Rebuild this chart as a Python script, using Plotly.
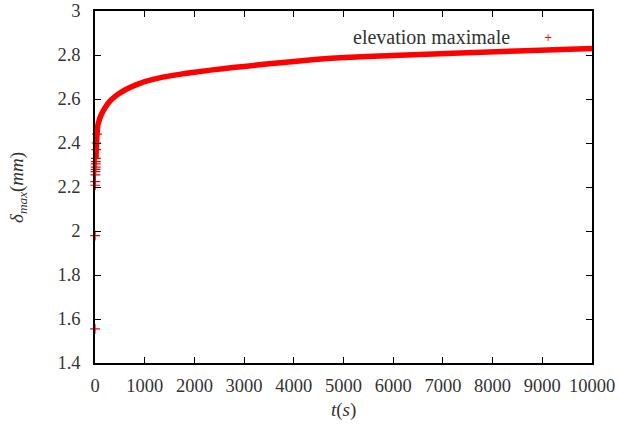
import plotly.graph_objects as go

# Data
t_s = [0, 2, 4, 6, 8, 10, 12, 14, 16, 18, 20, 25, 30, 40, 50, 60, 80, 100, 150, 215,
       300, 400, 530, 670, 800, 1000, 1300, 1700, 2000, 2650, 3000, 3500, 4058, 4930,
       6000, 7344, 8500, 10000]
delta_max = [1.555, 1.979, 2.208, 2.224, 2.255, 2.27, 2.28, 2.29, 2.305, 2.315, 2.33,
             2.37, 2.40, 2.44, 2.465, 2.485, 2.50, 2.515, 2.54, 2.565,
             2.590, 2.611, 2.631, 2.649, 2.662, 2.679, 2.696, 2.712, 2.722, 2.740,
             2.748, 2.760, 2.772, 2.787, 2.798, 2.809, 2.818, 2.830]
series_name = "elevation maximale"
x_ticks = list(range(0, 10001, 1000))
x_labels = [str(v) for v in x_ticks]
y_ticks = [1.4, 1.6, 1.8, 2.0, 2.2, 2.4, 2.6, 2.8, 3.0]
y_labels = ["1.4", "1.6", "1.8", "2", "2.2", "2.4", "2.6", "2.8", "3"]

RED = "#ff0000"
FONT = "Liberation Serif"
TXT = "#333333"
line_start = 10   # dense band begins here
marker_end = 14   # isolated markers visible before this index

fig = go.Figure()
fig.add_trace(go.Scatter(
    x=t_s[line_start:], y=delta_max[line_start:], mode="lines",
    line=dict(color=RED, width=5.5, shape="spline", smoothing=0.6),
    showlegend=False, hoverinfo="skip"))
fig.add_trace(go.Scatter(
    x=t_s[:marker_end], y=delta_max[:marker_end], mode="markers", name=series_name,
    marker=dict(symbol="cross-thin", size=7, line=dict(color=RED, width=1.2), color=RED),
    cliponaxis=False, showlegend=False))

axis_common = dict(
    showline=True, linecolor="black", linewidth=1.5, mirror="allticks",
    ticks="inside", ticklen=6, tickcolor="black", tickwidth=1,
    showgrid=False, zeroline=False, automargin=False, ticklabeloverflow="allow",
    tickfont=dict(family=FONT, size=18.5, color=TXT),
)
fig.update_xaxes(range=[0, 10000], tickvals=x_ticks, ticktext=x_labels,
                 ticklabelstandoff=5, **axis_common)
fig.update_yaxes(range=[1.4, 3.0], tickvals=y_ticks, ticktext=y_labels,
                 ticklabelstandoff=9, **axis_common)

# axis titles
fig.add_annotation(xref="paper", yref="paper", x=0.5, y=-0.134, xanchor="center", yanchor="middle",
                   text="<i>t</i>(<i>s</i>)", showarrow=False, font=dict(family=FONT, size=19, color=TXT))
fig.add_annotation(xref="paper", yref="paper", x=-0.155, y=0.5, xanchor="center", yanchor="middle",
                   textangle=-90, text="<i>δ</i><sub><i>max</i></sub>(<i>mm</i>)", showarrow=False,
                   font=dict(family=FONT, size=19, color=TXT))

# key (text right-justified, sample to its right, as in the reference)
fig.add_annotation(xref="paper", yref="paper", x=0.839, y=0.926, xanchor="right", yanchor="middle",
                   text=series_name, showarrow=False, font=dict(family=FONT, size=20, color=TXT))
fig.add_annotation(xref="paper", yref="paper", x=0.911, y=0.926, xanchor="center", yanchor="middle",
                   text="+", showarrow=False, font=dict(family="DejaVu Sans", size=10, color=RED))

fig.update_layout(
    width=619, height=428, margin=dict(l=95, r=27, t=11, b=65),
    plot_bgcolor="white", paper_bgcolor="white", showlegend=False,
)
# remove the page's default 8px body margin so the figure fills the window
fig.write_html("out.html", config={"displayModeBar": False},
               post_script="document.body.style.margin='0';document.body.style.overflow='hidden';")
